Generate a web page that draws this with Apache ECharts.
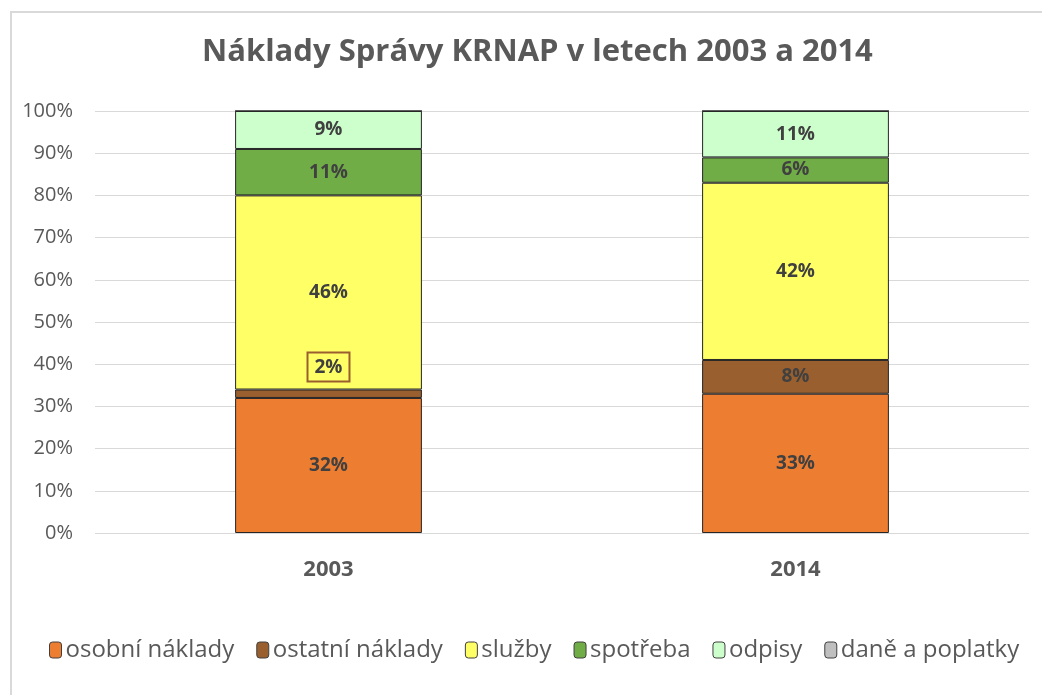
<!DOCTYPE html>
<html>
<head>
<meta charset="utf-8">
<script src="https://cdn.jsdelivr.net/npm/echarts@6/dist/echarts.min.js"></script>
<style>
  html, body { margin: 0; padding: 0; background: #fff; }
  #chart { width: 1042px; height: 695px; }
</style>
</head>
<body>
<div id="chart"></div>
<script>
// data (percent of total costs)
var years = ['2003', '2014'];
var seriesNames = ['osobní náklady', 'ostatní náklady', 'služby', 'spotřeba', 'odpisy', 'daně a poplatky'];
var osobni = [32, 33];
var ostatni = [2, 8];
var sluzby = [46, 42];
var spotreba = [11, 6];
var odpisy = [9, 11];
var dane = [0, 0];
var yTicks = [0, 10, 20, 30, 40, 50, 60, 70, 80, 90, 100];

var colors = ['#ed7d31', '#9a5f2e', '#ffff66', '#70ad47', '#ccffcc', '#bfbfbf'];
var font = '"Open Sans", "Noto Sans", sans-serif';
var textGray = '#595959';

var chart = echarts.init(document.getElementById('chart'));

function makeSeries(name, values, idx) {
    var data = values.map(function (v, i) {
        var item = { value: v };
        // the tiny 2% slice in 2003 gets a boxed label above the bar piece
        if (idx === 1 && i === 0) {
            item.label = {
                show: true,
                position: 'top',
                distance: 8,
                borderColor: '#9a5f2e',
                borderWidth: 2,
                padding: [6, 7, 4, 7]
            };
        }
        return item;
    });
    return {
        name: name,
        type: 'bar',
        stack: 'total',
        barWidth: '40%',
        data: data,
        itemStyle: { color: colors[idx], borderColor: '#262626', borderWidth: 1 },
        label: {
            show: idx !== 5,
            position: 'inside',
            color: '#404040',
            fontFamily: font,
            fontWeight: 'bold',
            fontSize: 19,
            formatter: function (p) { return p.value > 0 ? p.value + '%' : ''; }
        }
    };
}

var allValues = [osobni, ostatni, sluzby, spotreba, odpisy, dane];

var option = {
    backgroundColor: '#fff',
    color: colors,
    animation: false,
    title: {
        text: 'Náklady Správy KRNAP v letech 2003 a 2014',
        left: 197,
        top: 32,
        textStyle: { fontFamily: font, fontWeight: 'bold', fontSize: 31, color: textGray }
    },
    graphic: [{
        type: 'rect',
        shape: { x: 11, y: 12, width: 1100, height: 800 },
        style: { fill: 'none', stroke: '#d9d9d9', lineWidth: 2 },
        silent: true
    }],
    legend: {
        top: 633,
        left: 44,
        itemWidth: 12,
        itemHeight: 16,
        itemGap: 22,
        data: seriesNames.map(function (n, i) {
            return { name: n, itemStyle: { borderColor: '#404040', borderWidth: 1 } };
        }),
        textStyle: { fontFamily: font, fontSize: 24, color: textGray, padding: [0, 0, 0, -1] }
    },
    grid: { left: 95, right: 13, top: 111, bottom: 162 },
    xAxis: {
        type: 'category',
        data: years,
        axisLine: { show: false },
        axisTick: { show: false },
        axisLabel: { fontFamily: font, fontWeight: 'bold', fontSize: 22, color: textGray, margin: 26 }
    },
    yAxis: {
        type: 'value',
        min: yTicks[0],
        max: yTicks[yTicks.length - 1],
        interval: 10,
        axisLabel: { fontFamily: font, fontSize: 20, color: textGray, margin: 22, formatter: '{value}%' },
        splitLine: { lineStyle: { color: '#d9d9d9', width: 1 } },
        axisLine: { show: false },
        axisTick: { show: false }
    },
    series: seriesNames.map(function (n, i) { return makeSeries(n, allValues[i], i); })
};

chart.setOption(option);
</script>
</body>
</html>
